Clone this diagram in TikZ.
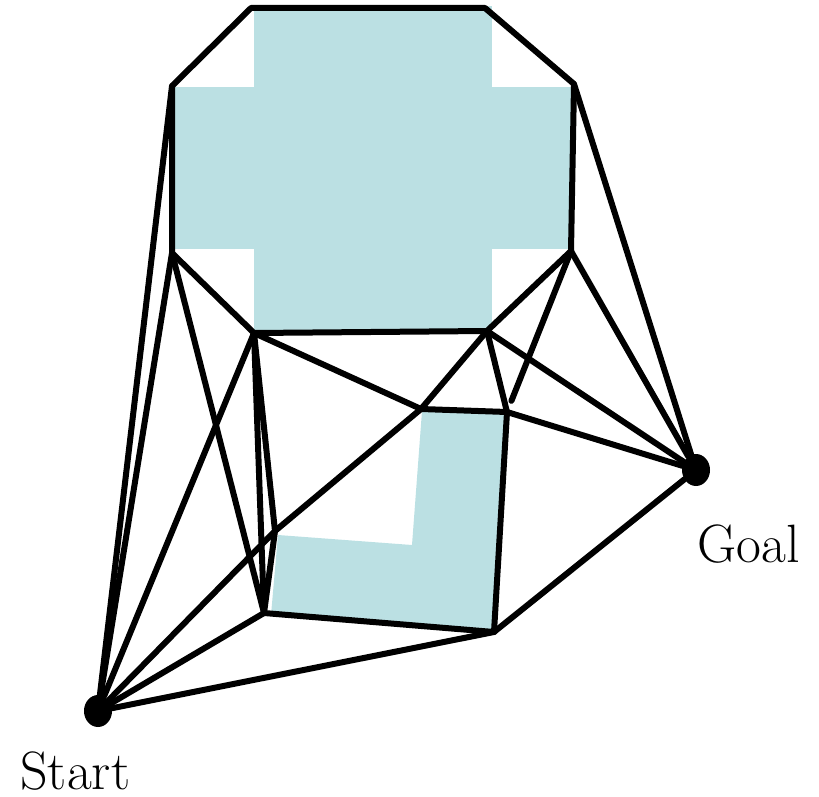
\documentclass[tikz,border=0pt]{standalone}
\usetikzlibrary{shapes.geometric}
\definecolor{obstfill}{HTML}{BBE0E3}

\begin{document}
\begin{tikzpicture}[
    x=0.5pt, y=-0.5pt,
    edge/.style={draw, line width=3pt, line cap=round, line join=round},
    dot/.style={ellipse, fill=black, minimum width=14pt, minimum height=16pt, inner sep=0pt},
    lbl/.style={font=\fontsize{27}{31}\selectfont, inner sep=0pt}
]
\useasboundingbox (0,0) rectangle (819,797);

% obstacles
\fill[obstfill] (254,6) rectangle (492,330);
\fill[obstfill] (175,87) rectangle (572,249);
\fill[obstfill] (422,411) -- (510,413) -- (493,631) -- (271,615) -- (278,535) -- (412,545) -- cycle;

% corners of the cross
\coordinate (a1) at (251,8);
\coordinate (a2) at (485,8);
\coordinate (a3) at (574,84);
\coordinate (a4) at (571,251);
\coordinate (a5) at (487,331);
\coordinate (a6) at (254,333);
\coordinate (a7) at (172,253);
\coordinate (a8) at (172,86);

% corners of the L
\coordinate (b1) at (421,409);
\coordinate (b2) at (507,412);
\coordinate (b3) at (494,632);
\coordinate (b4) at (264,613);
\coordinate (b5) at (275,531);

\node[dot] (start) at (98,711) {};
\node[dot] (goal) at (696,470) {};

% obstacle outlines
\draw[edge] (a1) -- (a2) -- (a3) -- (a4) -- (a5) -- (a6) -- (a7) -- (a8) -- cycle;
\draw[edge] (b1) -- (b2) -- (b3) -- (b4) -- (b5);

% visibility edges
\foreach \u/\v in {start/a8, start/a7, start/a6, start/b5, start/b4, start/b3,
                   a7/b4, a6/b4, a6/b5, a6/b1, b5/b1, a5/b1, a5/b2,
                   a5/goal, a4/goal, a3/goal, b2/goal, b3/goal}
    \draw[edge] (\u) -- (\v);
\draw[edge, shorten >=6pt] (a4) -- (b2);

\node[lbl, anchor=base west] (startlbl) at (20,789) {Start};
\node[lbl, anchor=base west] (goallbl) at (697,562) {Goal};
\end{tikzpicture}
\end{document}
